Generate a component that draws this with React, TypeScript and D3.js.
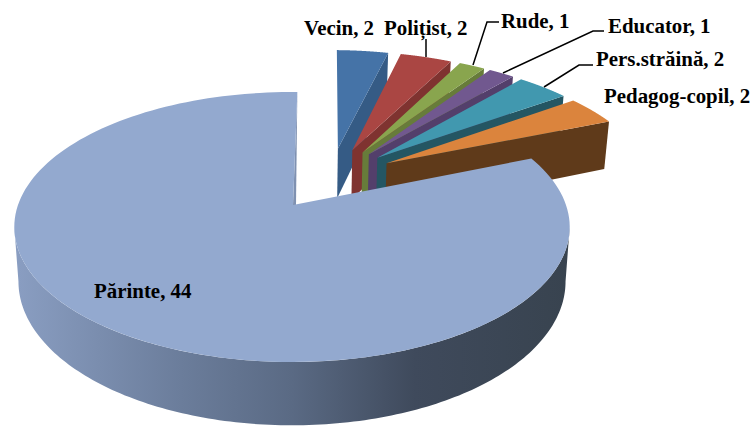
import React from "react";
import * as d3 from "d3";

const categories = ["Vecin", "Polițist", "Rude", "Educator", "Pers.străină", "Pedagog-copil", "Părinte"];
const values = [2, 2, 1, 1, 2, 2, 44];
const topColors = ["#4573A7", "#AA4643", "#89A54E", "#71588F", "#4198AF", "#DB843D", "#93A9CF"];
const wallColors = ["#355B85", "#7F3330", "#677C3A", "#533F6B", "#245663", "#5F3A1A", "#7F91B1"];
const labelX = [304, 384, 501, 608, 596, 604, 94];
const labelY = [35, 35, 28, 33, 66, 103, 298];
const leaders: [number, number][][] = [
  [],
  [[426, 39], [426, 57]],
  [[499, 22], [487, 22], [473, 65]],
  [[604, 31], [593, 31], [503, 73]],
  [[593, 65], [579, 65], [544, 87]],
  [],
  [],
];

const W = 755, H = 426;
const cx = 292, cy = 205, R = 274, A = 131.4, K = 0.163, DEPTH = 53;
const ROT = (1.3 * Math.PI) / 180;
const project = (X: number, Y: number, z: number): [number, number] => {
  const d = 1 - K * Y;
  return [cx + ((R * X) / d) * (1 - 0.015 * z), cy + (A * Y + DEPTH * z) / d];
};

const pie = d3.pie<number>().sort(null).value((d) => d).startAngle(ROT).endAngle(ROT + 2 * Math.PI);
const arcs = pie(values);
const line = d3.line();
const mainIndex = arcs.length - 1;

function offset(i: number): [number, number] {
  if (i === mainIndex) return [0, 0];
  const mid = (arcs[i].startAngle + arcs[i].endAngle) / 2;
  const dir = (17.5 * Math.PI) / 180 + 0.488 * mid;
  const dist = 0.485 + 0.024 * Math.sin((mid * 180) / 70);
  return [dist * Math.sin(dir), -dist * Math.cos(dir)];
}
const rim = (a: number, o: [number, number], z: number) => project(o[0] + Math.sin(a), o[1] - Math.cos(a), z);
const angles = (s: number, e: number) => d3.range(0, 161).map((k) => s + ((e - s) * k) / 160);

const mainApexTop: [number, number] = [1 / R, 0];
const mainApexWall: [number, number] = [4 / R, 0];

function topPath(i: number) {
  const o = offset(i);
  const ap = i === mainIndex ? mainApexTop : o;
  const pts = [project(ap[0], ap[1], 0), ...angles(arcs[i].startAngle, arcs[i].endAngle).map((a) => rim(a, o, 0))];
  return line(pts) + "Z";
}
function endWall(i: number) {
  const o = offset(i);
  const e = arcs[i].endAngle;
  return line([project(o[0], o[1], 0), rim(e, o, 0), rim(e, o, 1), project(o[0], o[1], 1)]) + "Z";
}
function mainStrip() {
  const e = arcs[mainIndex].endAngle;
  return (
    line([
      project(mainApexTop[0], mainApexTop[1], 0),
      rim(e, [0, 0], 0),
      project(mainApexWall[0], mainApexWall[1], 0),
    ]) + "Z"
  );
}
function outerWall(i: number, s: number, e: number) {
  const o = offset(i);
  const as = angles(s, e);
  return line([...as.map((a) => rim(a, o, 0)), ...as.slice().reverse().map((a) => rim(a, o, 1))]) + "Z";
}

const small = d3.range(0, mainIndex);
const font = '"Liberation Serif", "Times New Roman", serif';

export default function App() {
  const tangent = Math.asin(K);
  const frontStart = Math.PI / 2 + tangent;
  const frontEnd = (3 * Math.PI) / 2 - tangent;
  return (
    <svg width={W} height={H} style={{ position: "absolute", left: 0, top: 0, background: "#fff" }}>
      <defs>
        <linearGradient id="mainSide" gradientUnits="userSpaceOnUse" x1={14} x2={570} y1={0} y2={0}>
          <stop offset="0" stopColor="#8A9EC2" />
          <stop offset="0.3" stopColor="#6B7D9B" />
          <stop offset="0.5" stopColor="#5A6A84" />
          <stop offset="0.72" stopColor="#3F4A5C" />
          <stop offset="1" stopColor="#38434F" />
        </linearGradient>
      </defs>
      {small.map((i) => (
        <g key={categories[i]}>
          <path d={endWall(i)} fill={wallColors[i]} />
          <path d={topPath(i)} fill={topColors[i]} />
        </g>
      ))}
      <path d={outerWall(mainIndex, frontStart, frontEnd)} fill="url(#mainSide)" />
      <path d={mainStrip()} fill={wallColors[mainIndex]} />
      <path d={topPath(mainIndex)} fill={topColors[mainIndex]} />
      {leaders.map((l, i) =>
        l.length ? <path key={i} d={line(l) as string} fill="none" stroke="#000" strokeWidth={1.5} /> : null
      )}
      {categories.map((c, i) => (
        <text key={c} x={labelX[i]} y={labelY[i]} fontFamily={font} fontWeight="bold" fontSize={20.9} fill="#000">
          {`${c}, ${values[i]}`}
        </text>
      ))}
    </svg>
  );
}
